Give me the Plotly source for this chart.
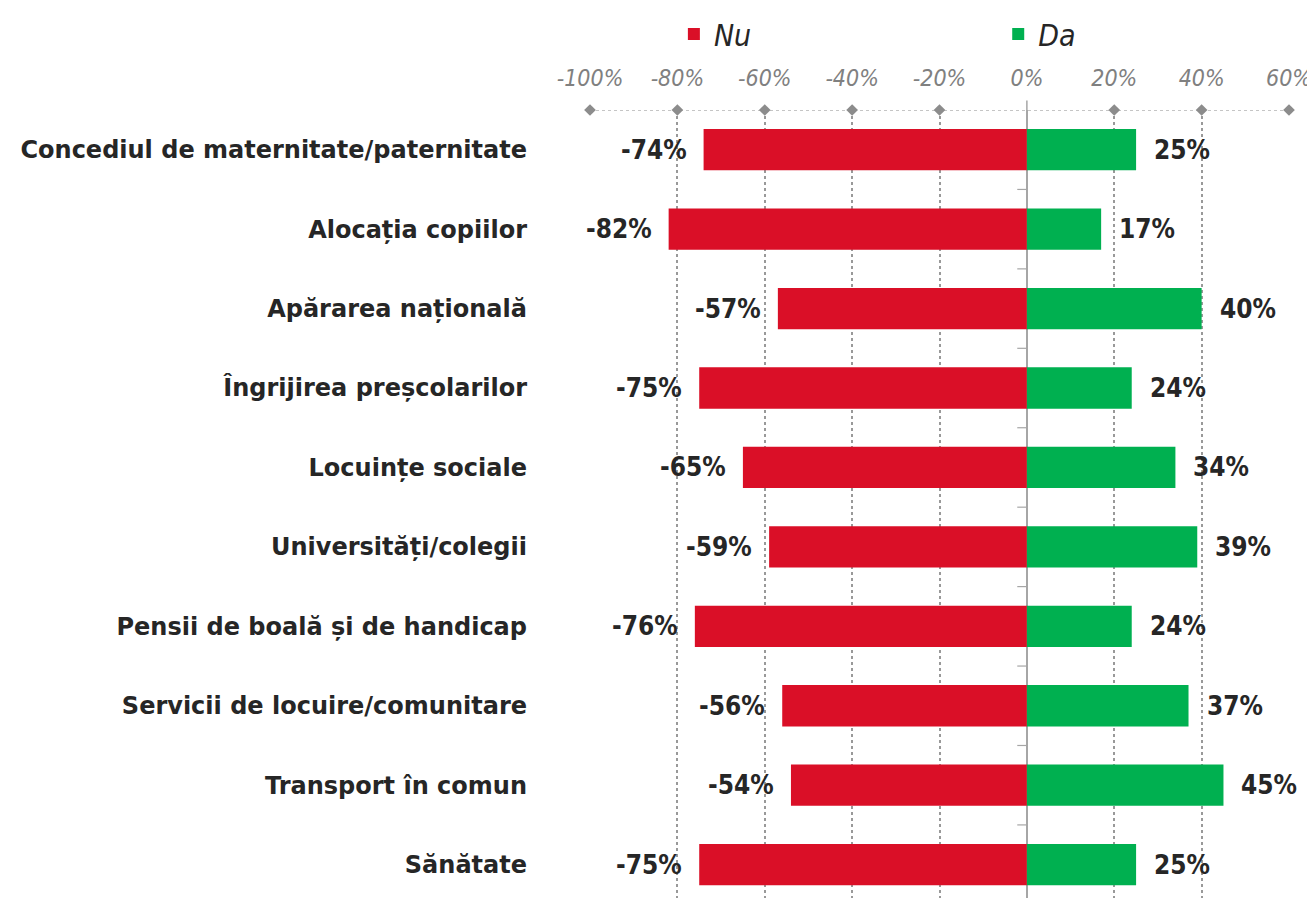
import numpy as np
import plotly.graph_objects as go

categories = [
    "Concediul de maternitate/paternitate",
    "Alocația copiilor",
    "Apărarea națională",
    "Îngrijirea preșcolarilor",
    "Locuințe sociale",
    "Universități/colegii",
    "Pensii de boală și de handicap",
    "Servicii de locuire/comunitare",
    "Transport în comun",
    "Sănătate",
]
nu_values = [-74, -82, -57, -75, -65, -59, -76, -56, -54, -75]
da_values = [25, 17, 40, 24, 34, 39, 24, 37, 45, 25]
tick_values = [-100, -80, -60, -40, -20, 0, 20, 40, 60]
tick_labels = ["-100%", "-80%", "-60%", "-40%", "-20%", "0%", "20%", "40%", "60%"]

RED = "#da0f27"
GREEN = "#00b050"
GRID = "#8c8c8c"
NARROW = "DejaVu Sans Condensed"
CAT_FONT = "DejaVu Sans"

ypos = np.arange(len(categories))

fig = go.Figure()

fig.add_trace(go.Bar(
    name="Nu", y=ypos, x=nu_values, orientation="h", legend="legend",
    marker=dict(color=RED, line=dict(width=0)),
))
fig.add_trace(go.Bar(
    name="Da", y=ypos, x=da_values, orientation="h", legend="legend2",
    marker=dict(color=GREEN, line=dict(width=0)),
))

# value labels next to bar ends
for yi, v in zip(ypos, nu_values):
    fig.add_annotation(x=v, y=yi, text=f"{v}%", showarrow=False, xanchor="right",
                       xshift=-15, font=dict(family=NARROW, size=26, color="#262626", weight="bold"))
for yi, v in zip(ypos, da_values):
    fig.add_annotation(x=v, y=yi, text=f"{v}%", showarrow=False, xanchor="left",
                       xshift=16, font=dict(family=NARROW, size=26, color="#262626", weight="bold"))

# diamonds on top axis line
fig.add_trace(go.Scatter(
    x=[t for t in tick_values if t != 0], y=[-0.5] * (len(tick_values) - 1),
    mode="markers", marker=dict(symbol="diamond", size=9, color=GRID),
    showlegend=False, hoverinfo="skip", cliponaxis=False,
))

# top dotted line
fig.add_shape(type="line", xref="x", yref="y", x0=-100, x1=60, y0=-0.5, y1=-0.5,
              line=dict(color=GRID, width=1, dash="dot"), layer="below")
fig.add_shape(type="line", xref="x", yref="paper", x0=0, x1=0, y0=1, y1=1.012,
              line=dict(color="#a6a6a6", width=1.5))
# small category separator ticks on the zero line
for i in range(len(categories)):
    fig.add_shape(type="line", xref="x", yref="y", x0=-2.2, x1=0, y0=i + 0.5, y1=i + 0.5,
                  line=dict(color="#a6a6a6", width=1.2))

legend_style = dict(orientation="h", xanchor="left", y=1.0, yref="container",
                    yanchor="top", itemwidth=30,
                    font=dict(family=NARROW, size=30, color="#262626", style="italic"))

fig.update_layout(
    width=1307, height=890,
    margin=dict(l=582, r=26, t=102, b=0),
    paper_bgcolor="white", plot_bgcolor="white",
    barmode="relative", bargap=0.48,
    showlegend=True,
    legend=dict(x=0.12, **legend_style),
    legend2=dict(x=0.584, **legend_style),
    xaxis=dict(
        side="top", range=[-100, 60], tickvals=tick_values, ticktext=tick_labels,
        showgrid=True, gridcolor="#999999", griddash="dot", gridwidth=2,
        zeroline=True, zerolinecolor="#a6a6a6", zerolinewidth=1.5,
        tickfont=dict(family=NARROW, size=23, color="#808080", style="italic"),
        ticklabelstandoff=18, showline=False, fixedrange=True,
    ),
    yaxis=dict(
        range=[9.42, -0.5], tickvals=ypos, ticktext=categories,
        tickfont=dict(family=CAT_FONT, size=24, color="#262626", weight="bold"),
        showgrid=False, zeroline=False, ticklabelstandoff=62, fixedrange=True,
    ),
)

fig.write_html("out.html")
